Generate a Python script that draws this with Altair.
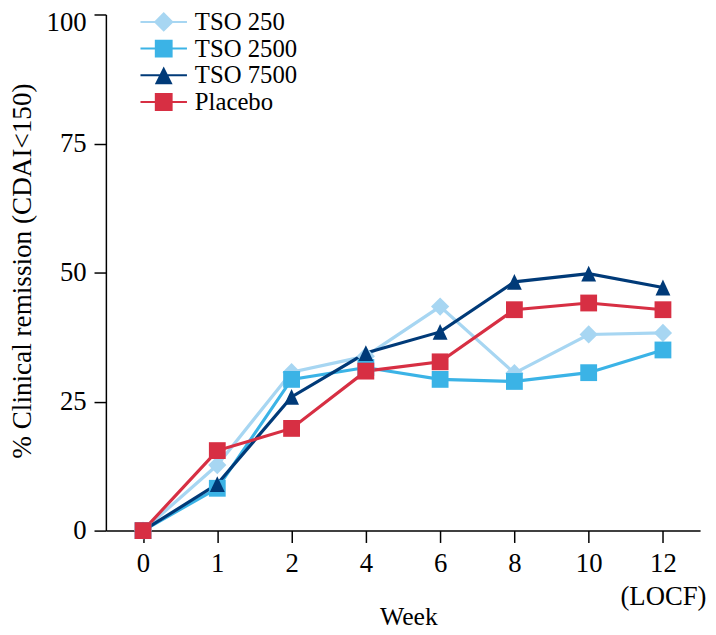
import altair as alt
import pandas as pd

# ---- data ----
weeks = ["0", "1", "2", "4", "6", "8", "10", "12"]
series_names = ["TSO 250", "TSO 2500", "TSO 7500", "Placebo"]
tso_250 = [0, 12.7, 30.7, 33.8, 43.4, 30.5, 38.0, 38.3]
tso_2500 = [0, 8.2, 29.3, 31.6, 29.3, 28.9, 30.6, 35.0]
tso_7500 = [0, 9.0, 25.9, 34.4, 38.5, 48.2, 49.8, 47.1]
placebo = [0, 15.5, 19.8, 30.9, 32.7, 42.8, 44.1, 42.8]
y_ticks = [0, 25, 50, 75, 100]

colors = ["#a7d6f2", "#3bb3e6", "#003a78", "#d72f43"]
FONT = "Liberation Serif"

rows = []
for name, vals in zip(series_names, [tso_250, tso_2500, tso_7500, placebo]):
    for i, (w, v) in enumerate(zip(weeks, vals)):
        rows.append({"Week": w, "idx": i, "Value": v, "Series": name})
df = pd.DataFrame(rows)

x_enc = alt.X(
    "Week:N",
    sort=weeks,
    scale=alt.Scale(type="point", padding=0.5),
    axis=alt.Axis(
        title="Week",
        titleX=306,
        titleY=95,
        titleBaseline="alphabetic",
        titleAlign="center",
        titleAnchor="middle",
        labelAngle=0,
        labelBaseline="top",
        labelPadding=8,
        labelLineHeight=34,
        labelExpr="datum.value == '12' ? ['12', '(LOCF)'] : datum.value",
        tickSize=12,
    ),
)
y_enc = alt.Y(
    "Value:Q",
    scale=alt.Scale(domain=[0, 100], nice=False, zero=True),
    axis=alt.Axis(
        title="% Clinical remission (CDAI<150)",
        values=y_ticks,
        titleX=-76,
        titleY=259,
        titleBaseline="alphabetic",
        titleAlign="center",
        titleAngle=270,
        labelPadding=8,
        labelOffset={"condition": {"test": "datum.value === 100", "value": 8}, "value": 0},
        tickSize=12,
        grid=False,
    ),
)

color_scale = alt.Scale(domain=series_names, range=colors)

line_seg = "M -2.35 -0.1 L 2.35 -0.1 L 2.35 0.1 L -2.35 0.1 Z"
legend_shapes = [
    line_seg + " M 0 -1 L 1 0 L 0 1 L -1 0 Z",
    line_seg + " M -0.9 -0.9 L 0.9 -0.9 L 0.9 0.9 L -0.9 0.9 Z",
    line_seg + " M 0 -0.9 L 0.9 0.9 L -0.9 0.9 Z",
    line_seg + " M -0.9 -0.9 L 0.9 -0.9 L 0.9 0.9 L -0.9 0.9 Z",
]

legend_props = dict(
    title=None,
    orient="none",
    legendX=46,
    legendY=-5,
    labelFont=FONT,
    labelFontSize=25,
    labelFontWeight="normal",
    labelColor="black",
    labelOffset=19,
    symbolSize=400,
    symbolStrokeWidth=0,
    symbolOpacity=1,
    rowPadding=1,
    padding=0,
)

# invisible layer that only carries the legend (line + marker symbols)
legend_layer = alt.Chart(df).mark_point(filled=True, size=0, strokeWidth=0).encode(
    x=x_enc,
    y=y_enc,
    color=alt.Color("Series:N", sort=series_names, scale=color_scale,
                    legend=alt.Legend(**legend_props)),
    shape=alt.Shape("Series:N", sort=series_names,
                    scale=alt.Scale(domain=series_names, range=legend_shapes),
                    legend=alt.Legend(**legend_props)),
)

lines = alt.Chart(df).mark_line(strokeWidth=3.2).encode(
    x=x_enc,
    y=y_enc,
    color=alt.Color("Series:N", sort=series_names, scale=color_scale, legend=None),
    order=alt.Order("idx:Q"),
)

tri_path = "M 0 -1 L 0.94 1 L -0.94 1 Z"
marker_specs = {
    "TSO 250": dict(shape="diamond", size=340),
    "TSO 2500": dict(shape="square", size=289),
    "TSO 7500": dict(shape=tri_path, size=256),
    "Placebo": dict(shape="square", size=289),
}

point_layers = []
for name, c in zip(series_names, colors):
    spec = marker_specs[name]
    point_layers.append(
        alt.Chart(df)
        .transform_filter(alt.datum.Series == name)
        .mark_point(filled=True, opacity=1, strokeWidth=0, color=c,
                    shape=spec["shape"], size=spec["size"])
        .encode(x=x_enc, y=y_enc)
    )

chart = (
    alt.layer(legend_layer, lines, *point_layers)
    .properties(
        width=601,
        height=522,
        padding={"left": 99, "top": 3, "right": 8, "bottom": 100},
        autosize=alt.AutoSizeParams(type="none"),
    )
    .configure(font=FONT)
    .configure_view(stroke=None)
    .configure_axis(
        domainColor="black",
        domainWidth=1.5,
        tickColor="black",
        tickWidth=1.5,
        labelFont=FONT,
        labelFontSize=27,
        labelColor="black",
        titleFont=FONT,
        titleFontSize=27.5,
        titleFontWeight="normal",
        titleColor="black",
    )
    .configure_axisX(titleFontSize=26)
    .configure_legend(labelFont=FONT, labelFontSize=25, labelColor="black")
)

chart.save("out.html", embed_options={"renderer": "svg", "actions": False})
